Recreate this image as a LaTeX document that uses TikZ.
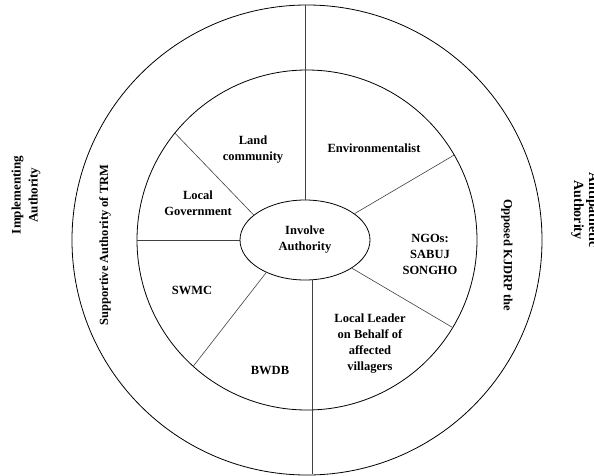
\documentclass[tikz,border=0pt]{standalone}
\usepackage{fontspec}
\setmainfont{Liberation Serif}
\usetikzlibrary{shapes.geometric,positioning}

\begin{document}
\begin{tikzpicture}[
    x=1pt, y=1pt,
    align=center,
    font=\bfseries\fontsize{12.5}{16}\selectfont,
    ring/.style={circle, draw=black, thick, inner sep=0pt},
    hub/.style={ellipse, draw=black, thick, minimum width=130pt,
      minimum height=80pt, inner sep=0pt},
    spoke/.style={black!75, semithick},
    side/.style={inner sep=0pt}
  ]

  \useasboundingbox (-307,-235) rectangle (287,240);

  % layout the rings and the hub

  \node (outer) [ring, minimum size=470pt] at (0,0)   {};
  \node (inner) [ring, minimum size=340pt] at (0,0)   {};
  \node (hub)   [hub] at (-2,0)                        {Involve\\Authority};

  % spokes from the hub

  \draw[spoke] (hub.north)  -- (hub.north |- outer.north);
  \draw[spoke] ([xshift=7pt]hub.south) -- ([xshift=7pt,yshift=1pt]hub.south |- outer.south);
  \draw[spoke] (hub.west)   -- (inner.west);
  \draw[spoke] (hub.154)    -- (inner.141);
  \draw[spoke] (hub.28)     -- (inner.30);
  \draw[spoke] (hub.-31)    -- (inner.-31);
  \draw[spoke] (hub.-140)   -- (inner.-132);

  % sectors of the inner ring

  \node (land)    [side] at (-54,90)    {Land\\community};
  \node (envir)   [side] at (67,92)     {Environmentalist};
  \node (locgov)  [side] at (-109,37)   {Local\\Government};
  \node (swmc)    [side] at (-115,-50)  {SWMC};
  \node (bwdb)    [side] at (-37,-130)  {BWDB};
  \node (leader)  [side] at (63,-104)   {Local Leader\\on Behalf of\\affected\\villagers};
  \node (ngos)    [side] at (123,-14)   {NGOs:\\SABUJ\\SONGHO};

  % labels of the outer ring and beyond

  \node (support) [side, rotate=90]  at (-202,-5)  {Supportive Authority of TRM};
  \node (oppose)  [side, rotate=-90] at (200,-15)  {Opposed KJDRP the};
  \node (implem)  [side, rotate=90, font=\bfseries\fontsize{13}{17}\selectfont]
                                     at (-281,45)  {Implementing\\Authority};
  \node (antip)   [side, rotate=-90, font=\bfseries\fontsize{14}{15}\selectfont]
                                     at (278,30)   {Antipathetic\\Authority};

\end{tikzpicture}
\end{document}
